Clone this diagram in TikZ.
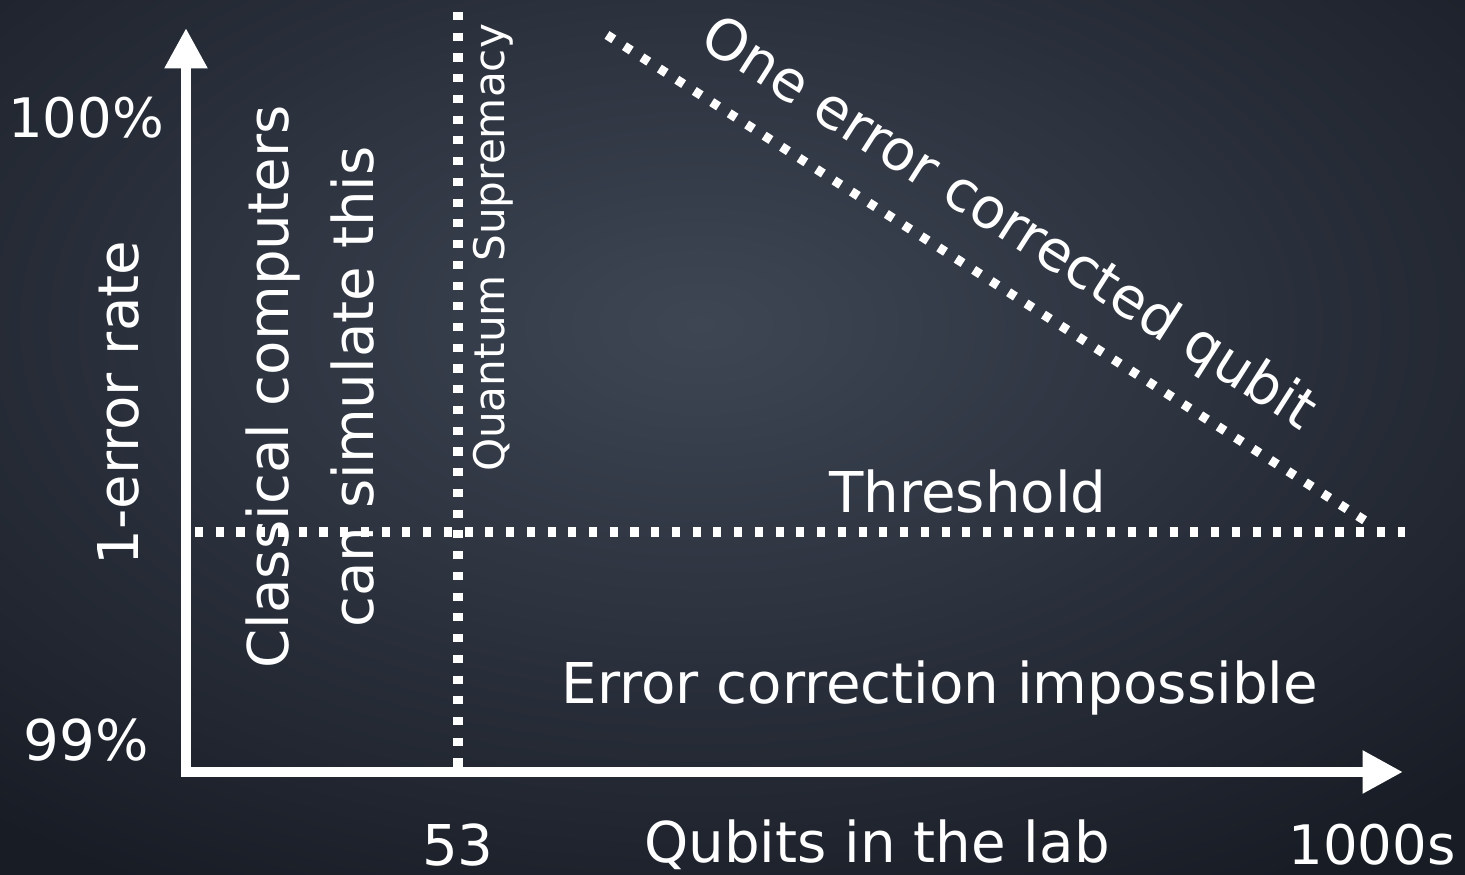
\documentclass[tikz,border=0pt]{standalone}
\usepackage{fontspec}
\setmainfont{DejaVu Sans}
\usetikzlibrary{arrows.meta}

\definecolor{board}{RGB}{24,28,37}
\definecolor{boardlight}{RGB}{62,70,84}

\begin{document}
\begin{tikzpicture}[>={Triangle[length=11.5pt, width=11.5pt]}, line width=2.9pt, white,
  chalkdots/.style={line width=2.6pt, dash pattern=on 2.3pt off 3.6pt},
  chalktext/.style={font=\fontsize{16}{19}\selectfont, inner sep=0pt},
  smalltext/.style={font=\fontsize{12}{14}\selectfont, inner sep=0pt}]
  % ===== Tafel =====
  \useasboundingbox (0,0) rectangle (14.65,8.75);
  \begin{scope}
    \clip (0,0) rectangle (14.65,8.75);
    \shade[inner color=boardlight, outer color=board] (-4,-1) rectangle (18,12);
  \end{scope}

  % ===== Achsen =====
  \coordinate (ytop) at (1.86,8.47);
  \coordinate (xend) at (14.03,1.03);
  \draw[<->, line join=miter] (ytop) |- (xend);

  % ===== Punktlinien =====
  \coordinate (qtop) at (4.58,8.63);
  \coordinate (qbot) at (4.58,1.08);
  \coordinate (thl) at (1.95,3.43);
  \coordinate (thr) at (14.05,3.43);
  \coordinate (dtop) at (6.07,8.40);
  \coordinate (dbot) at (13.75,3.48);
  \draw[chalkdots] (qtop) -- (qbot);
  \draw[chalkdots] (thl) -- (thr);
  \draw[chalkdots] (dtop) -- (dbot);

  % ===== Beschriftung =====
  \node[chalktext, font=\fontsize{15.5}{19}\selectfont] (ymax) at (0.86,7.57) {100\%};
  \node[chalktext] (ymin) at (0.86,1.35) {99\%};
  \node[chalktext, rotate=90] (ylab) at (1.18,4.72) {1-error rate};
  \node[chalktext, rotate=90, align=center, font=\fontsize{16}{24}\selectfont]
    (classic) at (3.10,4.88) {Classical computers\\can simulate this};
  \node[smalltext, rotate=90] (supremacy) at (4.93,6.27) {Quantum Supremacy};
  \node[chalktext, rotate=-32.6] (ecq) at (10.08,6.50) {One error corrected qubit};
  \node[chalktext] (threshold) at (9.68,3.83) {Threshold};
  \node[chalktext] (impossible) at (9.40,1.87) {Error correction impossible};
  \node[chalktext] (x53) at (4.58,0.30) {53};
  \node[chalktext] (xlab) at (8.77,0.30) {Qubits in the lab};
  \node[chalktext, font=\fontsize{15.5}{19}\selectfont] (x1000) at (13.72,0.30) {1000s};
\end{tikzpicture}
\end{document}
